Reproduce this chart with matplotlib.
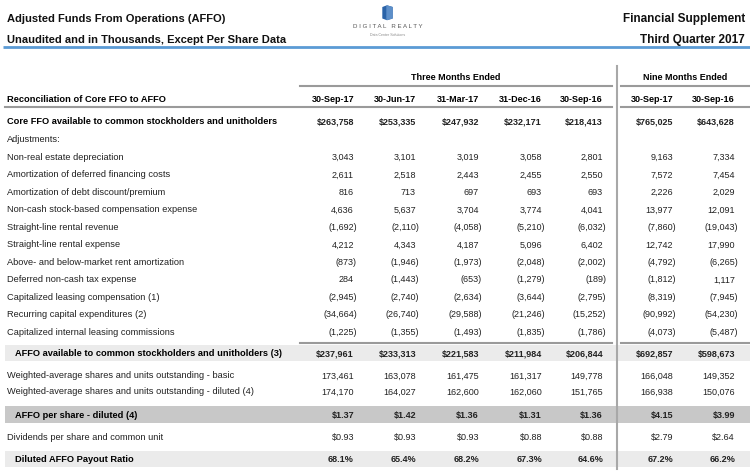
import matplotlib
matplotlib.use("Agg")
import matplotlib.pyplot as plt
from matplotlib.patches import Rectangle, Polygon

plt.rcParams['font.family'] = ['Liberation Sans', 'DejaVu Sans']

# ---- data ----
periods_3m = ['30-Sep-17', '30-Jun-17', '31-Mar-17', '31-Dec-16', '30-Sep-16']
periods_9m = ['30-Sep-17', '30-Sep-16']

core_ffo = [263758, 253335, 247932, 232171, 218413, 765025, 643628]

adj_labels = [
    'Non-real estate depreciation',
    'Amortization of deferred financing costs',
    'Amortization of debt discount/premium',
    'Non-cash stock-based compensation expense',
    'Straight-line rental revenue',
    'Straight-line rental expense',
    'Above- and below-market rent amortization',
    'Deferred non-cash tax expense',
    'Capitalized leasing compensation (1)',
    'Recurring capital expenditures (2)',
    'Capitalized internal leasing commissions',
]
adj_values = [
    [3043, 3101, 3019, 3058, 2801, 9163, 7334],
    [2611, 2518, 2443, 2455, 2550, 7572, 7454],
    [816, 713, 697, 693, 693, 2226, 2029],
    [4636, 5637, 3704, 3774, 4041, 13977, 12091],
    [-1692, -2110, -4058, -5210, -6032, -7860, -19043],
    [4212, 4343, 4187, 5096, 6402, 12742, 17990],
    [-873, -1946, -1973, -2048, -2002, -4792, -6265],
    [284, -1443, -653, -1279, -189, -1812, 1117],
    [-2945, -2740, -2634, -3644, -2795, -8319, -7945],
    [-34664, -26740, -29588, -21246, -15252, -90992, -54230],
    [-1225, -1355, -1493, -1835, -1786, -4073, -5487],
]

affo = [237961, 233313, 221583, 211984, 206844, 692857, 598673]
shares_basic = [173461, 163078, 161475, 161317, 149778, 166048, 149352]
shares_diluted = [174170, 164027, 162600, 162060, 151765, 166938, 150076]
affo_per_share = [1.37, 1.42, 1.36, 1.31, 1.36, 4.15, 3.99]
dividends = [0.93, 0.93, 0.93, 0.88, 0.88, 2.79, 2.64]
payout_ratio = [68.1, 65.4, 68.2, 67.3, 64.6, 67.2, 66.2]


def fmt(v, dollar=False, dec=0, pct=False):
    s = f"{abs(v):,.{dec}f}"
    if dollar:
        s = '$' + s
    if pct:
        s = s + '%'
    if v < 0:
        s = '(' + s + ')'
    return s


# ---- layout ----
fig = plt.figure(figsize=(7.5, 4.77), dpi=100)
ax = fig.add_axes([0, 0, 1, 1])
ax.set_xlim(0, 750)
ax.set_ylim(477, 0)
ax.axis('off')

col_x = [354, 416, 479, 542, 603, 673, 735]
fs = 6.5      # numbers
fl = 6.7      # row labels
grey = '#9a9a9a'
vline_x = 617


def put_values(y, vals, bold=False, **kw):
    for x, v in zip(col_x, vals):
        s = fmt(v, **kw)
        ax.text(x + (3 if v < 0 else 0), y, s, ha='right', va='center',
                fontsize=fs, fontweight='bold' if bold else 'normal', color='#222')


# header
ax.text(7, 19, 'Adjusted Funds From Operations (AFFO)', fontsize=8, fontweight='bold',
        va='center', color='#111')
ax.text(7, 40, 'Unaudited and in Thousands, Except Per Share Data', fontsize=8,
        fontweight='bold', va='center', color='#111')
ax.text(745, 19, 'Financial Supplement', fontsize=8.5, fontweight='bold',
        ha='right', va='center', color='#111')
ax.text(745, 40, 'Third Quarter 2017', fontsize=8.5, fontweight='bold',
        ha='right', va='center', color='#111')
ax.plot([3, 750], [48, 48], color='#5b9bd5', lw=2, solid_capstyle='butt')

# logo
ax.add_patch(Polygon([[383, 8.5], [387, 7], [392, 8.5], [392, 19], [387, 20.5], [383, 19]],
                     closed=True, color='#2a63a8'))
ax.add_patch(Polygon([[387, 7], [392, 8.5], [392, 19], [387, 20.5]],
                     closed=True, color='#5d8fc9'))
ax.text(388, 27, 'D I G I T A L   R E A L T Y', fontsize=4.4, ha='center', va='center',
        color='#555')
ax.text(388, 34.5, 'Data Center Solutions', fontsize=2.6, ha='center', va='center',
        color='#888')

# group headers
ax.text(456, 78, 'Three Months Ended', fontsize=fs, fontweight='bold', ha='center', va='center')
ax.text(685, 78, 'Nine Months Ended', fontsize=fs, fontweight='bold', ha='center', va='center')
ax.plot([300, 612], [87, 87], color=grey, lw=1.5)
ax.plot([621, 750], [87, 87], color=grey, lw=1.5)

ax.text(7, 99, 'Reconciliation of Core FFO to AFFO', fontsize=fl, fontweight='bold', va='center')
for x, p in zip(col_x, periods_3m + periods_9m):
    ax.text(x, 99, p, fontsize=fs, fontweight='bold', ha='right', va='center')
ax.plot([5, 612], [108, 108], color=grey, lw=1.5)
ax.plot([621, 750], [108, 108], color=grey, lw=1.5)

# shaded bands
ax.add_patch(Rectangle((5, 346), 745, 16, color='#ebebeb', lw=0))
ax.add_patch(Rectangle((5, 407), 745, 17, color='#c8c8c8', lw=0))
ax.add_patch(Rectangle((5, 452), 745, 16, color='#ebebeb', lw=0))

# vertical separator
ax.plot([vline_x, vline_x], [67, 470], color='#a8a8a8', lw=1.5)

# body
ax.text(7, 122, 'Core FFO available to common stockholders and unitholders', fontsize=fl,
        fontweight='bold', va='center')
put_values(122, core_ffo, bold=True, dollar=True)
ax.text(7, 140, 'Adjustments:', fontsize=fl, va='center', color='#222')

y = 157.5
for lab, vals in zip(adj_labels, adj_values):
    ax.text(7, y, lab, fontsize=fl, va='center', color='#222')
    put_values(y, vals)
    y += 17.5

ax.plot([300, 612], [344, 344], color=grey, lw=1.5)
ax.plot([621, 750], [344, 344], color=grey, lw=1.5)

ax.text(15, 354, 'AFFO available to common stockholders and unitholders (3)', fontsize=fl,
        fontweight='bold', va='center')
put_values(354, affo, bold=True, dollar=True)

ax.text(7, 376, 'Weighted-average shares and units outstanding - basic', fontsize=fl,
        va='center', color='#222')
put_values(376, shares_basic)
ax.text(7, 392, 'Weighted-average shares and units outstanding - diluted (4)', fontsize=fl,
        va='center', color='#222')
put_values(392, shares_diluted)

ax.text(15, 416, 'AFFO per share - diluted (4)', fontsize=fl, fontweight='bold', va='center')
put_values(416, affo_per_share, bold=True, dollar=True, dec=2)

ax.text(7, 438, 'Dividends per share and common unit', fontsize=fl, va='center', color='#222')
put_values(438, dividends, dollar=True, dec=2)

ax.text(15, 460, 'Diluted AFFO Payout Ratio', fontsize=fl, fontweight='bold', va='center')
put_values(460, payout_ratio, bold=True, dec=1, pct=True)

fig.savefig('out.png', dpi=100)
